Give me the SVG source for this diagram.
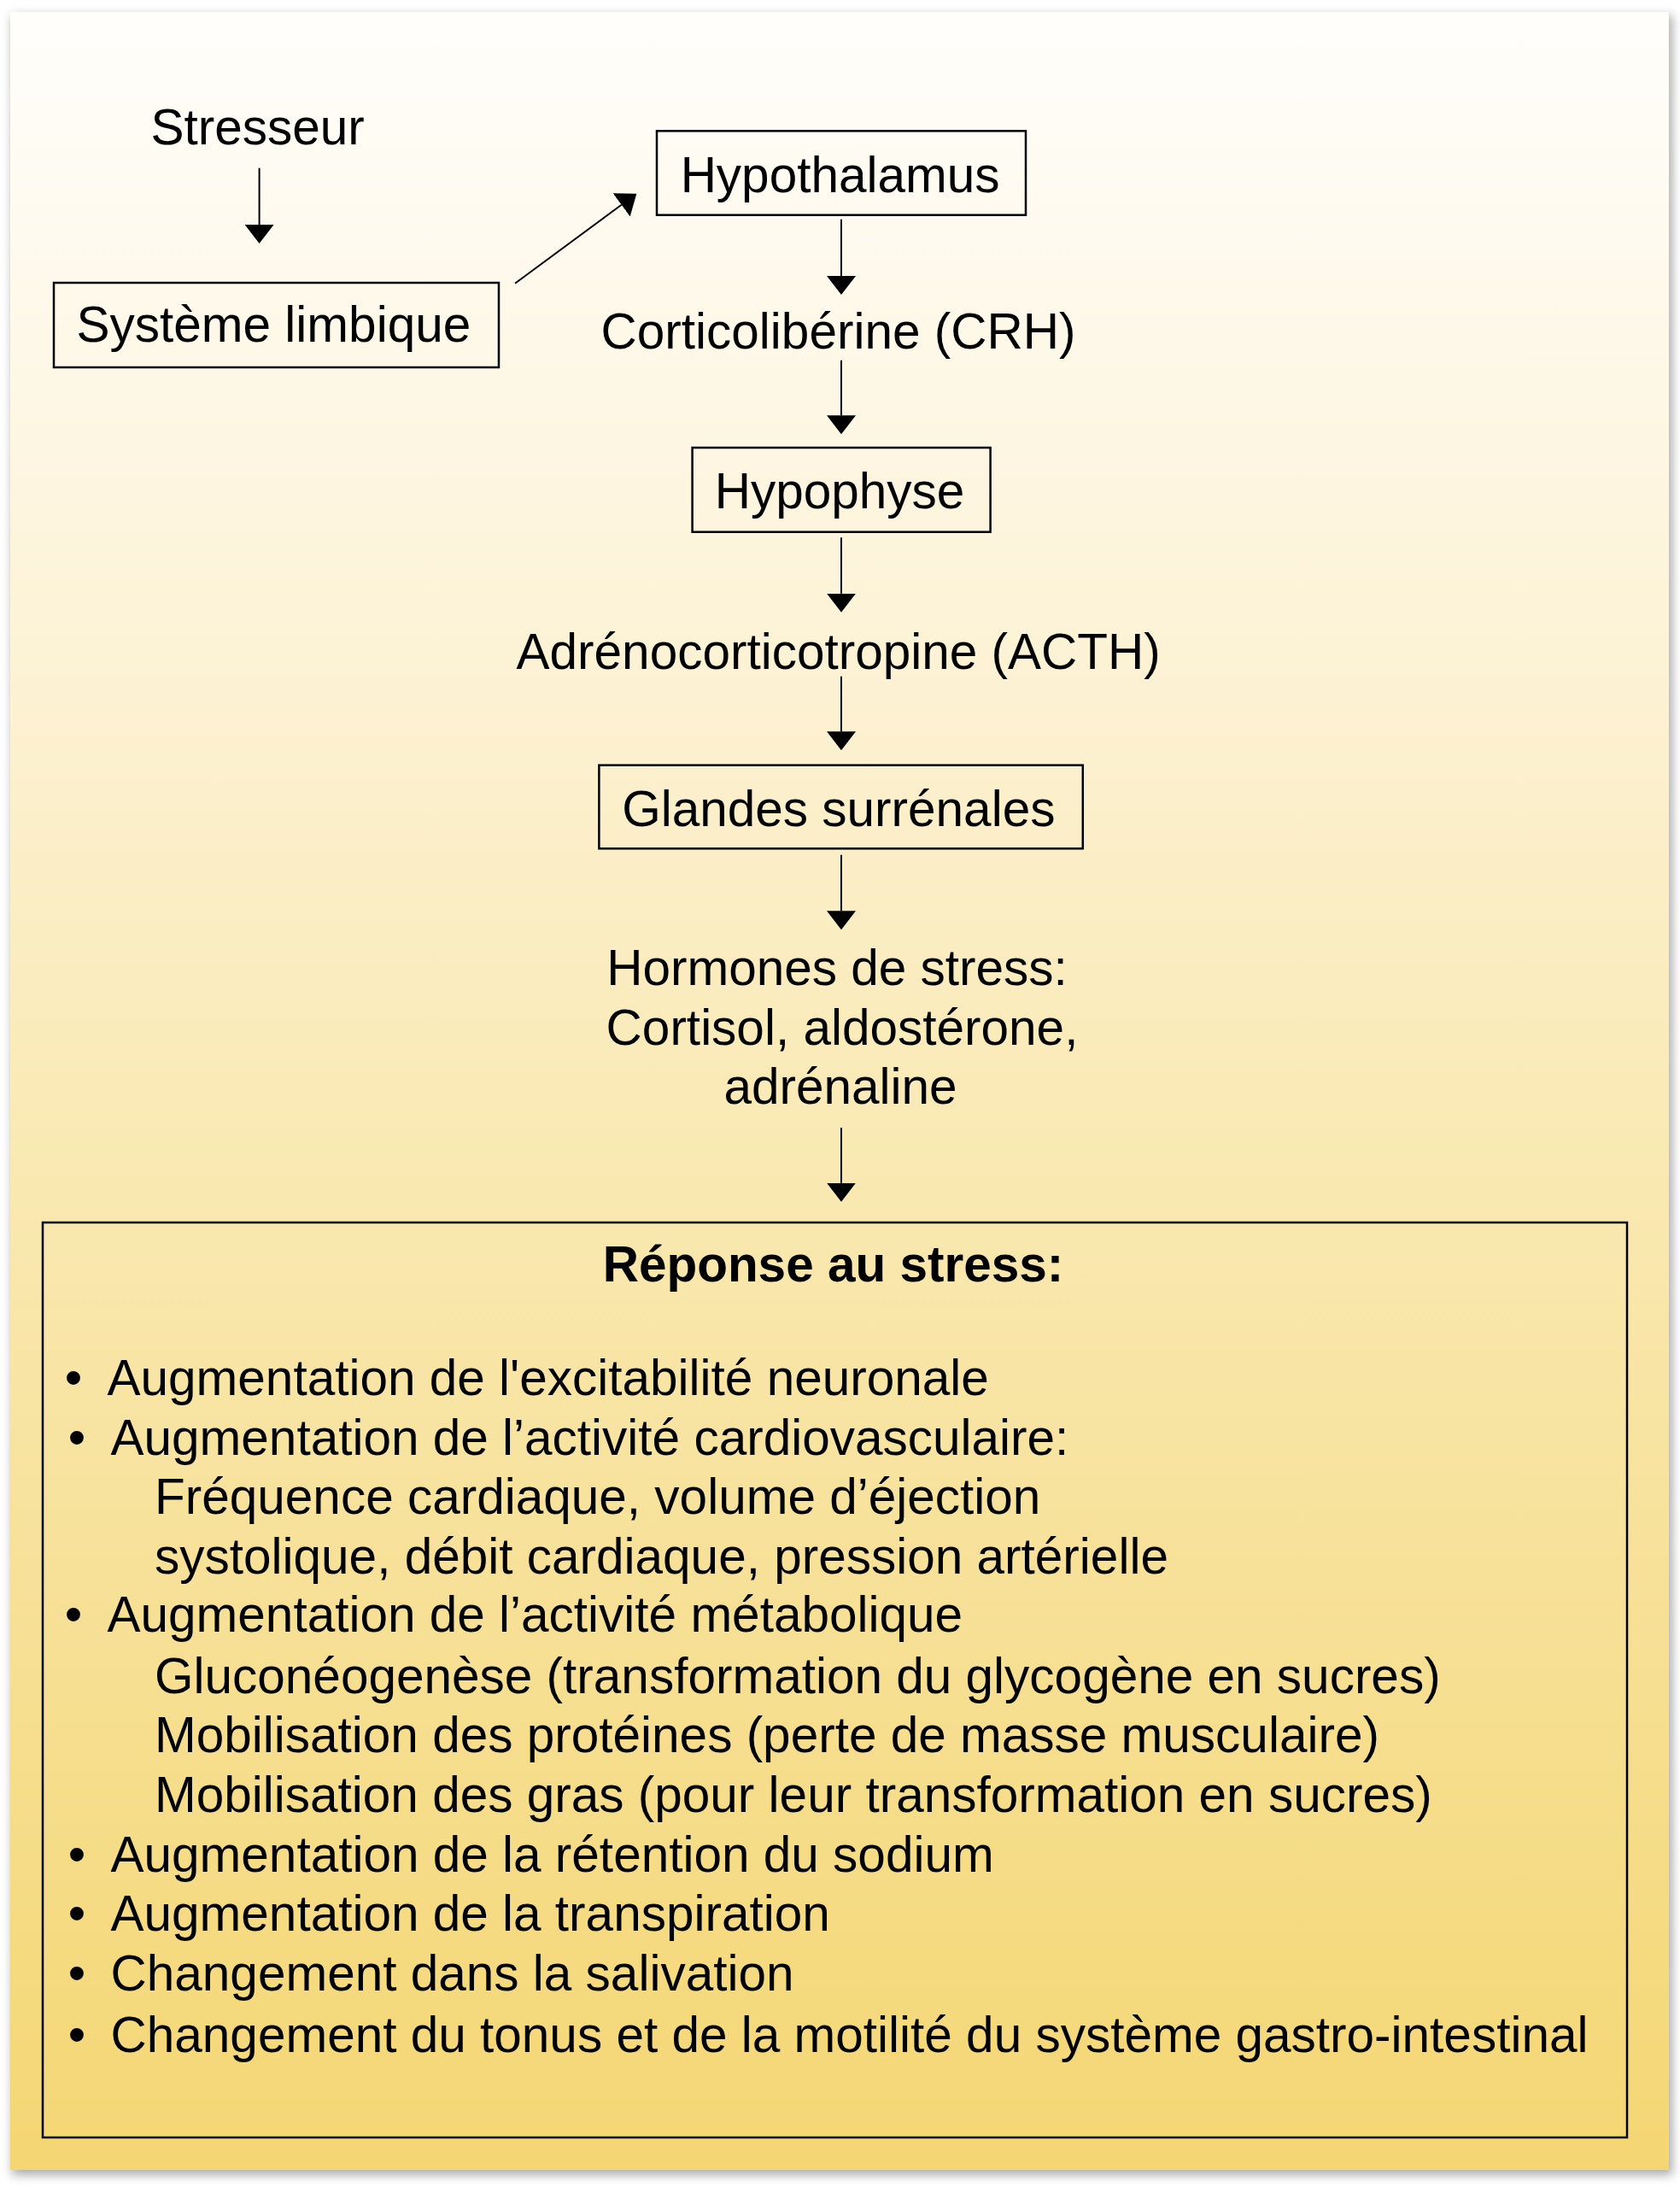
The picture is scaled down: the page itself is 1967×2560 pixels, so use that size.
<svg xmlns="http://www.w3.org/2000/svg" width="1967" height="2560" viewBox="0 0 1967 2560">
<defs>
<linearGradient id="bg" x1="0" y1="0" x2="0" y2="1">
<stop offset="0" stop-color="#fffefb"/>
<stop offset="0.25" stop-color="#fdf4dc"/>
<stop offset="0.55" stop-color="#f9e8b0"/>
<stop offset="1" stop-color="#f4d673"/>
</linearGradient>
<filter id="sh" x="-5%" y="-5%" width="110%" height="110%">
<feGaussianBlur stdDeviation="6"/>
</filter>
<marker id="ah" markerUnits="userSpaceOnUse" viewBox="0 0 22 34" markerWidth="22" markerHeight="34" refX="0" refY="17" orient="auto">
<path d="M0,0 L22,17 L0,34 Z" fill="#000"/>
</marker>
<style>
text{font-family:"Liberation Sans",Arial,Helvetica,sans-serif;font-size:58.5px;fill:#000}
.c{text-anchor:middle}
.b{font-weight:bold}
.box{fill:none;stroke:#000;stroke-width:2.5}
.ln{stroke:#000;stroke-width:2;fill:none;marker-end:url(#ah)}
</style>
</defs>
<rect width="1967" height="2560" fill="#fff"/>
<rect x="14" y="18" width="1944" height="2528" fill="#888" opacity="0.7" filter="url(#sh)"/>
<rect x="12" y="14" width="1942" height="2526" fill="url(#bg)"/>

<g id="connectors">
<line class="ln" x1="303.6" y1="196.7" x2="303.6" y2="263"/>
<line class="ln" x1="603" y1="331.7" x2="727.6" y2="239.8"/>
<line class="ln" x1="985" y1="256.7" x2="985" y2="323"/>
<line class="ln" x1="985" y1="421.7" x2="985" y2="486.3"/>
<line class="ln" x1="985" y1="629.3" x2="985" y2="694.7"/>
<line class="ln" x1="985" y1="791.7" x2="985" y2="856.3"/>
<line class="ln" x1="985" y1="1000.7" x2="985" y2="1066.3"/>
<line class="ln" x1="985" y1="1320" x2="985" y2="1384.7"/>
</g>

<g id="stresseur"><text class="c" x="301.6" y="169.3">Stresseur</text></g>
<g id="systeme-limbique">
<rect class="box" x="63" y="331" width="521" height="99"/>
<text class="c" x="320.4" y="400">Système limbique</text>
</g>
<g id="hypothalamus">
<rect class="box" x="769" y="153.3" width="432" height="98.4"/>
<text class="c" x="983.6" y="225">Hypothalamus</text>
</g>
<g id="crh"><text class="c" x="981.5" y="408.3">Corticolibérine (CRH)</text></g>
<g id="hypophyse">
<rect class="box" x="810.6" y="524" width="349" height="98.7"/>
<text class="c" x="983" y="595">Hypophyse</text>
</g>
<g id="acth"><text class="c" x="981.7" y="783.3">Adrénocorticotropine (ACTH)</text></g>
<g id="glandes">
<rect class="box" x="701.4" y="895.7" width="566.4" height="97.6"/>
<text class="c" x="981.8" y="966.7">Glandes surrénales</text>
</g>
<g id="hormones">
<text class="c" x="980" y="1153.3">Hormones de stress:</text>
<text class="c" x="986" y="1223.3">Cortisol, aldostérone,</text>
<text class="c" x="984" y="1291.7">adrénaline</text>
</g>
<g id="reponse">
<rect class="box" x="50" y="1431" width="1855" height="1071"/>
<text class="c b" x="975.5" y="1500">Réponse au stress:</text>
<text class="c" x="86" y="1633">•</text><text x="125.5" y="1633">Augmentation de l'excitabilité neuronale</text>
<text class="c" x="90" y="1703">•</text><text x="129.5" y="1703">Augmentation de l’activité cardiovasculaire:</text>
<text x="181" y="1772">Fréquence cardiaque, volume d’éjection</text>
<text x="181" y="1842">systolique, débit cardiaque, pression artérielle</text>
<text class="c" x="86" y="1910">•</text><text x="125.5" y="1910">Augmentation de l’activité métabolique</text>
<text x="181" y="1982">Gluconéogenèse (transformation du glycogène en sucres)</text>
<text x="181" y="2051">Mobilisation des protéines (perte de masse musculaire)</text>
<text x="181" y="2121">Mobilisation des gras (pour leur transformation en sucres)</text>
<text class="c" x="90" y="2191">•</text><text x="129.5" y="2191">Augmentation de la rétention du sodium</text>
<text class="c" x="90" y="2260">•</text><text x="129.5" y="2260">Augmentation de la transpiration</text>
<text class="c" x="90" y="2330">•</text><text x="129.5" y="2330">Changement dans la salivation</text>
<text class="c" x="90" y="2402">•</text><text x="129.5" y="2402">Changement du tonus et de la motilité du système gastro-intestinal</text>
</g>
</svg>
